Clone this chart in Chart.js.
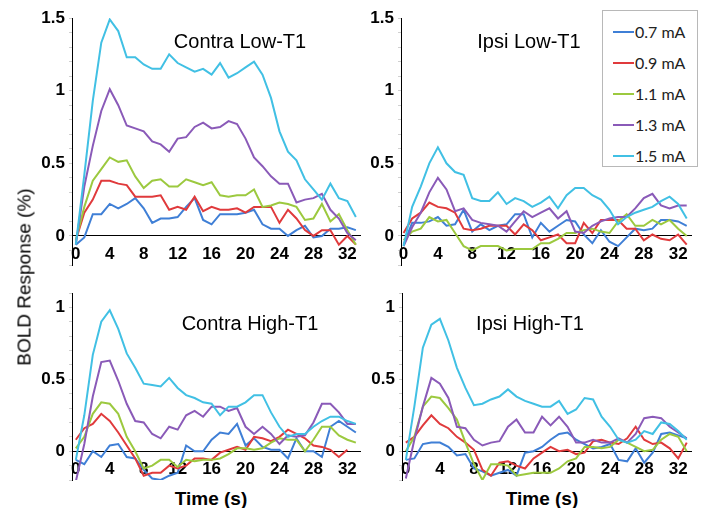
<!DOCTYPE html>
<html lang="en">
<head>
  <meta charset="UTF-8" />
  <title>BOLD Response</title>
  <script src="https://cdn.jsdelivr.net/npm/chart.js"></script>
  <style>
    body {
      margin: 0;
      background: #fff;
      font-family: "Liberation Sans", Arial, sans-serif;
    }

    #fig {
      position: relative;
      width: 706px;
      height: 508px;
      overflow: hidden;
    }

    canvas {
      position: absolute;
    }

    .txt {
      position: absolute;
      color: #000;
      line-height: 1;
      white-space: nowrap;
      transform: translate(-50%, -50%);
    }

    .ptitle {
      font-size: 20px;
    }

    .xlab {
      font-size: 19px;
      font-weight: bold;
    }

    #ylab {
      font-size: 19px;
      transform: translate(-50%, -50%) rotate(-90deg);
    }

    #legend {
      position: absolute;
      left: 602px;
      top: 10px;
      width: 96px;
      height: 157px;
      border: 1px solid #b8b8b8;
      background: #fff;
      padding-top: 5px;
      box-sizing: border-box;
      font-family: Lato, "Open Sans", sans-serif;
      font-size: 16px;
      color: #222;
    }

    #legend .row {
      height: 31px;
      display: flex;
      align-items: center;
      padding-left: 10px;
    }

    #legend .swatch {
      width: 21px;
      height: 2px;
      margin-right: 1px;
    }
  </style>
</head>

<body>
  <div id="fig">
    <canvas id="cTL" width="365" height="270" style="left:0;top:0"></canvas>
    <canvas id="cTR" width="341" height="270" style="left:365px;top:0"></canvas>
    <canvas id="cBL" width="365" height="205" style="left:0;top:280px"></canvas>
    <canvas id="cBR" width="341" height="205" style="left:365px;top:280px"></canvas>

    <div class="txt ptitle" style="left:240px;top:41px">Contra Low-T1</div>
    <div class="txt ptitle" style="left:529px;top:41px">Ipsi Low-T1</div>
    <div class="txt ptitle" style="left:250px;top:323px">Contra High-T1</div>
    <div class="txt ptitle" style="left:530px;top:323px">Ipsi High-T1</div>

    <div class="txt xlab" style="left:211px;top:498px">Time (s)</div>
    <div class="txt xlab" style="left:542px;top:498px">Time (s)</div>
    <div class="txt" id="ylab" style="left:24px;top:277px">BOLD Response (%)</div>

    <div id="legend"></div>
  </div>

  <script>
    const timeSec = [0, 1, 2, 3, 4, 5, 6, 7, 8, 9, 10, 11, 12, 13, 14, 15, 16,
      17, 18, 19, 20, 21, 22, 23, 24, 25, 26, 27, 28, 29, 30, 31, 32, 33];
    const currents = ["0.7 mA", "0.9 mA", "1.1 mA", "1.3 mA", "1.5 mA"];
    const xTickValues = [0, 4, 8, 12, 16, 20, 24, 28, 32];
    const yTicksLow = [0, 0.5, 1, 1.5];
    const yTicksHigh = [0, 0.5, 1];
    const yMinorLow = [-0.2, -0.1, 0, 0.1, 0.2, 0.3, 0.4, 0.5, 0.6, 0.7, 0.8, 0.9, 1, 1.1, 1.2, 1.3, 1.4, 1.5];
    const yMinorHigh = [-0.2, -0.1, 0, 0.1, 0.2, 0.3, 0.4, 0.5, 0.6, 0.7, 0.8, 0.9, 1, 1.1];

    // Contra Low-T1
    const contraLow07 = [-0.06, -0.01, 0.15, 0.15, 0.22, 0.19, 0.22, 0.26, 0.19, 0.09, 0.12, 0.12, 0.13, 0.20, 0.26, 0.11, 0.08,
      0.15, 0.15, 0.15, 0.16, 0.18, 0.08, 0.05, 0.05, 0.00, 0.04, 0.07, -0.01, 0.00, 0.05, 0.05, 0.06, 0.04];
    const contraLow09 = [-0.03, 0.16, 0.25, 0.38, 0.38, 0.36, 0.35, 0.27, 0.27, 0.27, 0.28, 0.18, 0.20, 0.18, 0.27, 0.17, 0.20,
      0.18, 0.18, 0.19, 0.16, 0.20, 0.20, 0.20, 0.09, 0.18, 0.12, 0.04, 0.00, 0.04, 0.04, -0.06, 0.00, -0.06];
    const contraLow11 = [-0.03, 0.20, 0.38, 0.46, 0.54, 0.51, 0.52, 0.41, 0.33, 0.38, 0.39, 0.34, 0.34, 0.39, 0.37, 0.35, 0.37,
      0.28, 0.27, 0.28, 0.28, 0.32, 0.20, 0.21, 0.23, 0.22, 0.20, 0.11, 0.12, 0.22, 0.10, 0.15, 0.04, -0.06];
    const contraLow13 = [-0.06, 0.34, 0.62, 0.86, 1.01, 0.90, 0.76, 0.74, 0.72, 0.65, 0.63, 0.58, 0.67, 0.68, 0.75, 0.78, 0.74,
      0.75, 0.79, 0.77, 0.67, 0.54, 0.48, 0.41, 0.36, 0.36, 0.23, 0.25, 0.26, 0.29, 0.18, 0.12, 0.02, -0.03];
    const contraLow15 = [-0.06, 0.42, 0.93, 1.33, 1.49, 1.41, 1.23, 1.23, 1.18, 1.15, 1.15, 1.25, 1.19, 1.16, 1.13, 1.15, 1.11,
      1.19, 1.09, 1.12, 1.16, 1.20, 1.11, 0.95, 0.72, 0.58, 0.52, 0.39, 0.32, 0.25, 0.36, 0.26, 0.24, 0.13];

    // Ipsi Low-T1
    const ipsiLow07 = [-0.06, 0.09, 0.09, 0.10, 0.13, 0.07, 0.08, 0.18, 0.03, 0.08, 0.04, 0.07, 0.08, 0.15, 0.15, -0.01, 0.09,
      0.03, 0.07, 0.11, 0.10, 0.01, -0.05, 0.04, -0.04, -0.07, -0.01, 0.05, 0.04, 0.05, 0.11, 0.11, 0.10, 0.07];
    const ipsiLow09 = [0.02, 0.12, 0.16, 0.23, 0.20, 0.19, 0.16, 0.05, 0.04, 0.05, 0.07, 0.07, 0.07, 0.01, 0.08, 0.04, -0.03,
      -0.01, 0.01, -0.05, -0.05, 0.09, 0.02, 0.11, 0.11, 0.11, 0.05, 0.05, -0.03, 0.01, -0.02, -0.03, 0.01, -0.06];
    const ipsiLow11 = [-0.03, 0.03, 0.05, 0.13, 0.10, 0.11, 0.02, -0.07, -0.10, -0.07, -0.07, -0.07, -0.10, -0.09, -0.09, -0.09, -0.05,
      -0.05, -0.02, 0.02, 0.02, 0.04, 0.05, 0.03, 0.02, 0.10, 0.15, 0.07, 0.07, 0.11, 0.08, 0.11, 0.05, 0.00];
    const ipsiLow13 = [-0.07, 0.06, 0.16, 0.30, 0.40, 0.32, 0.17, 0.19, 0.11, 0.09, 0.08, 0.07, 0.03, 0.10, 0.17, 0.13, 0.16,
      0.19, 0.12, 0.17, 0.03, 0.02, 0.07, 0.10, 0.12, 0.13, 0.13, 0.19, 0.26, 0.29, 0.21, 0.19, 0.21, 0.21];
    const ipsiLow15 = [-0.07, 0.20, 0.34, 0.50, 0.61, 0.50, 0.44, 0.42, 0.26, 0.24, 0.24, 0.30, 0.22, 0.26, 0.24, 0.20, 0.23,
      0.27, 0.19, 0.28, 0.33, 0.33, 0.28, 0.25, 0.18, 0.08, 0.13, 0.16, 0.18, 0.20, 0.24, 0.27, 0.22, 0.12];

    // Contra High-T1
    const contraHigh07 = [-0.06, -0.09, 0.00, -0.04, 0.04, 0.05, -0.04, -0.05, -0.13, -0.19, -0.20, -0.17, -0.15, 0.04, 0.00, 0.00, 0.08,
      0.13, 0.12, 0.19, 0.04, 0.09, 0.03, 0.01, 0.01, -0.05, 0.09, 0.00, 0.00, -0.04, 0.17, 0.21, 0.17, 0.13];
    const contraHigh09 = [0.08, 0.16, 0.19, 0.26, 0.21, 0.13, 0.04, -0.05, -0.17, -0.15, -0.15, -0.10, -0.12, -0.10, -0.05, -0.05, -0.06,
      -0.01, 0.01, 0.03, 0.01, 0.10, 0.09, 0.07, 0.10, 0.15, 0.12, 0.09, 0.04, 0.03, 0.01, -0.04, 0.01];
    const contraHigh11 = [0.02, 0.10, 0.26, 0.34, 0.33, 0.26, 0.10, 0.00, -0.12, -0.10, -0.06, -0.06, -0.11, -0.06, -0.07, -0.06, -0.06,
      -0.05, -0.02, 0.02, 0.02, 0.01, 0.02, 0.06, 0.09, 0.08, 0.08, 0.00, 0.08, 0.17, 0.17, 0.11, 0.08, 0.06];
    const contraHigh13 = [-0.21, 0.05, 0.38, 0.62, 0.63, 0.49, 0.33, 0.21, 0.20, 0.12, 0.09, 0.17, 0.15, 0.25, 0.28, 0.24, 0.31,
      0.31, 0.28, 0.30, 0.17, 0.12, 0.17, 0.12, 0.05, 0.11, 0.10, 0.11, 0.20, 0.33, 0.33, 0.27, 0.19, 0.19];
    const contraHigh15 = [-0.06, 0.25, 0.67, 0.90, 0.98, 0.85, 0.68, 0.58, 0.47, 0.46, 0.45, 0.51, 0.44, 0.39, 0.37, 0.34, 0.33,
      0.25, 0.31, 0.31, 0.34, 0.39, 0.39, 0.27, 0.17, 0.10, 0.12, 0.12, 0.17, 0.21, 0.24, 0.24, 0.21, 0.19];

    // Ipsi High-T1
    const ipsiHigh07 = [-0.06, -0.05, 0.05, 0.06, 0.06, 0.03, -0.03, -0.02, -0.12, -0.14, -0.17, -0.15, -0.13, -0.17, -0.01, 0.00, 0.03,
      0.08, 0.12, 0.13, 0.08, 0.05, 0.02, 0.03, 0.05, -0.06, -0.07, 0.02, -0.08, -0.01, 0.12, 0.13, 0.11, 0.09];
    const ipsiHigh09 = [0.06, 0.10, 0.18, 0.25, 0.19, 0.16, 0.10, 0.06, 0.01, -0.13, -0.17, -0.08, -0.07, -0.10, -0.12, -0.05, -0.01,
      0.03, 0.00, 0.01, -0.02, -0.01, 0.07, 0.08, 0.06, 0.05, 0.09, 0.17, 0.08, 0.05, 0.06, 0.02, -0.05, 0.06];
    const ipsiHigh11 = [0.00, 0.10, 0.31, 0.38, 0.37, 0.30, 0.22, 0.06, -0.09, -0.20, -0.09, -0.09, -0.10, -0.17, -0.16, -0.15, -0.15,
      -0.15, -0.12, -0.07, -0.05, 0.03, 0.03, 0.02, 0.03, 0.08, 0.06, 0.03, 0.00, 0.01, 0.08, 0.12, 0.10, 0.00];
    const ipsiHigh13 = [-0.19, 0.08, 0.31, 0.51, 0.47, 0.37, 0.17, 0.16, 0.08, 0.04, 0.06, 0.07, 0.17, 0.22, 0.13, 0.13, 0.24,
      0.18, 0.24, 0.17, 0.06, 0.06, 0.08, 0.06, 0.06, 0.09, 0.06, 0.12, 0.23, 0.24, 0.23, 0.17, 0.13, 0.09];
    const ipsiHigh15 = [-0.06, 0.31, 0.72, 0.88, 0.92, 0.77, 0.58, 0.44, 0.32, 0.33, 0.36, 0.38, 0.43, 0.38, 0.35, 0.33, 0.31,
      0.31, 0.35, 0.26, 0.29, 0.37, 0.36, 0.24, 0.17, 0.08, 0.06, 0.08, 0.14, 0.12, 0.20, 0.19, 0.14, 0.08];

    const lineColors = ["#3f7fd6", "#e03a3c", "#9cc93f", "#8a5ab8", "#41c0e4"];
    const tickFont = { family: "'Liberation Sans Narrow', 'Liberation Sans', Arial, sans-serif", size: 17, weight: "bold" };

    function makePanel(id, series, yMax, yTicks, yMinor, opts) {
      new Chart(document.getElementById(id), {
        type: "line",
        data: {
          datasets: series.map((vals, i) => ({
            label: currents[i],
            data: vals.map((v, k) => ({ x: timeSec[k], y: v })),
            borderColor: lineColors[i],
            borderWidth: 2,
            pointRadius: 0,
            tension: 0,
            fill: false,
            order: series.length - i,
          })),
        },
        options: {
          animation: false,
          responsive: false,
          events: [],
          layout: { padding: opts.padding },
          plugins: { legend: { display: false }, tooltip: { enabled: false } },
          scales: {
            x: {
              type: "linear",
              min: opts.xMin,
              max: 33.5,
              position: { y: 0 },
              z: 1,
              grid: { display: false, drawTicks: false },
              border: { display: true, color: "#000", width: 1 },
              ticks: {
                font: tickFont,
                color: "#000",
                padding: 8,
                maxRotation: 0,
                autoSkip: false,
                showLabelBackdrop: true,
                backdropColor: "rgba(255,255,255,0.55)",
                backdropPadding: 0,
              },
              afterBuildTicks: (s) => { s.ticks = xTickValues.map((v) => ({ value: v })); },
            },
            y: {
              type: "linear",
              min: -0.2,
              max: yMax,
              // light minor marks every 0.1, labels only on the major values
              grid: { display: true, drawOnChartArea: false, drawTicks: true, tickLength: 3, color: "#d0d0d0" },
              border: { display: true, color: "#000", width: 1 },
              ticks: {
                font: tickFont,
                color: "#000",
                padding: 4,
                autoSkip: false,
                callback: (v) => (yTicks.includes(v) ? String(v) : ""),
              },
              afterBuildTicks: (s) => { s.ticks = yMinor.map((v) => ({ value: v })); },
              afterFit: (s) => {
                s.width = opts.yWidth;
                s.paddingTop = 0;
                s.paddingBottom = 0;
              },
            },
          },
        },
      });
    }

    makePanel("cTL", [contraLow07, contraLow09, contraLow11, contraLow13, contraLow15], 1.5, yTicksLow, yMinorLow,
      { xMin: -0.45, yWidth: 72, padding: { top: 18, bottom: 5, left: 0, right: 4 } });
    makePanel("cTR", [ipsiLow07, ipsiLow09, ipsiLow11, ipsiLow13, ipsiLow15], 1.5, yTicksLow, yMinorLow,
      { xMin: -0.3, yWidth: 36, padding: { top: 18, bottom: 5, left: 0, right: 15 } });
    makePanel("cBL", [contraHigh07, contraHigh09, contraHigh11, contraHigh13, contraHigh15], 1.1, yTicksHigh, yMinorHigh,
      { xMin: -0.45, yWidth: 72, padding: { top: 13, bottom: 5, left: 0, right: 4 } });
    makePanel("cBR", [ipsiHigh07, ipsiHigh09, ipsiHigh11, ipsiHigh13, ipsiHigh15], 1.1, yTicksHigh, yMinorHigh,
      { xMin: -0.45, yWidth: 37, padding: { top: 13, bottom: 5, left: 0, right: 15 } });

    // legend box
    const legend = document.getElementById("legend");
    currents.forEach((name, i) => {
      const row = document.createElement("div");
      row.className = "row";
      const sw = document.createElement("span");
      sw.className = "swatch";
      sw.style.background = lineColors[i];
      const label = document.createElement("span");
      label.textContent = name;
      row.appendChild(sw);
      row.appendChild(label);
      legend.appendChild(row);
    });
  </script>
</body>
</html>
